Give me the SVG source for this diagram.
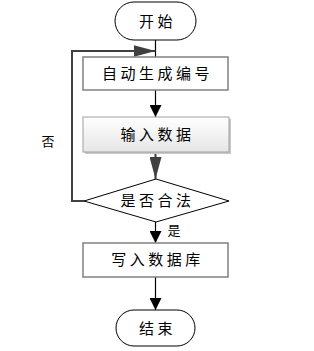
<svg xmlns="http://www.w3.org/2000/svg" width="314" height="351" viewBox="0 0 314 351">
<style>
.t{font-family:"Noto Sans CJK SC","Microsoft YaHei",sans-serif;font-size:15px;fill:#000;text-anchor:middle;letter-spacing:3.5px}
.s{font-family:"Noto Sans CJK SC",sans-serif;font-size:13px;fill:#000;text-anchor:middle}
.term{fill:#fff;stroke:#000;stroke-width:1}
.box{fill:#fff;stroke:#808080;stroke-width:1.5}
.ln{fill:none;stroke:#000;stroke-width:1.2}
.lg{fill:none;stroke:#404040;stroke-width:2}
</style>
<defs>
<linearGradient id="g" x1="0" y1="0" x2="0" y2="1">
<stop offset="0" stop-color="#ffffff"/>
<stop offset="1" stop-color="#e6e6e6"/>
</linearGradient>
<marker id="ab" markerWidth="12" markerHeight="12" viewBox="0 0 12 12" refX="12" refY="6" orient="auto" markerUnits="userSpaceOnUse">
<path d="M0,0 L12,6 L0,12 Z" fill="#000"/>
</marker>
<marker id="ag" markerWidth="22" markerHeight="12" viewBox="0 0 22 12" refX="22" refY="6" orient="auto" markerUnits="userSpaceOnUse">
<path d="M0,0 L22,6 L0,12 Z" fill="#404040"/>
</marker>
</defs>
<g id="connectors">
<line class="ln" x1="155.5" y1="40" x2="155.5" y2="57"/>
<line class="ln" x1="155.5" y1="90" x2="155.5" y2="117" marker-end="url(#ab)"/>
<line class="lg" x1="155.5" y1="152" x2="155.5" y2="179" marker-end="url(#ag)"/>
<line class="ln" x1="155.5" y1="222" x2="155.5" y2="243" marker-end="url(#ab)"/>
<line class="ln" x1="155.5" y1="277" x2="155.5" y2="310" marker-end="url(#ab)"/>
<polyline class="lg" points="84,201 72,201 72,51 155.5,51" marker-end="url(#ag)"/>
<text class="s" x="48" y="146">否</text>
<text class="s" x="174" y="235">是</text>
</g>
<g id="start">
<rect class="term" x="115" y="2" width="81" height="38" rx="19"/>
<text class="t" x="157.5" y="27">开始</text>
</g>
<g id="autogen">
<rect class="box" x="83" y="57" width="145" height="33"/>
<text class="t" x="157.5" y="79">自动生成编号</text>
</g>
<g id="input">
<rect x="85" y="119" width="146" height="35" fill="#c8c8c8"/>
<rect x="83" y="117" width="146" height="35" fill="url(#g)" stroke="#a0a0a0" stroke-width="1"/>
<text class="t" x="157.5" y="140">输入数据</text>
</g>
<g id="check">
<polygon points="156,179 229,201 156,222 84,201" fill="#fff" stroke="#000" stroke-width="1"/>
<text class="t" x="157.5" y="206">是否合法</text>
</g>
<g id="write">
<rect class="box" x="83" y="243" width="145" height="34"/>
<text class="t" x="157.5" y="265">写入数据库</text>
</g>
<g id="end">
<rect class="term" x="116" y="310" width="79" height="36" rx="18"/>
<text class="t" x="157.5" y="334">结束</text>
</g>
</svg>
